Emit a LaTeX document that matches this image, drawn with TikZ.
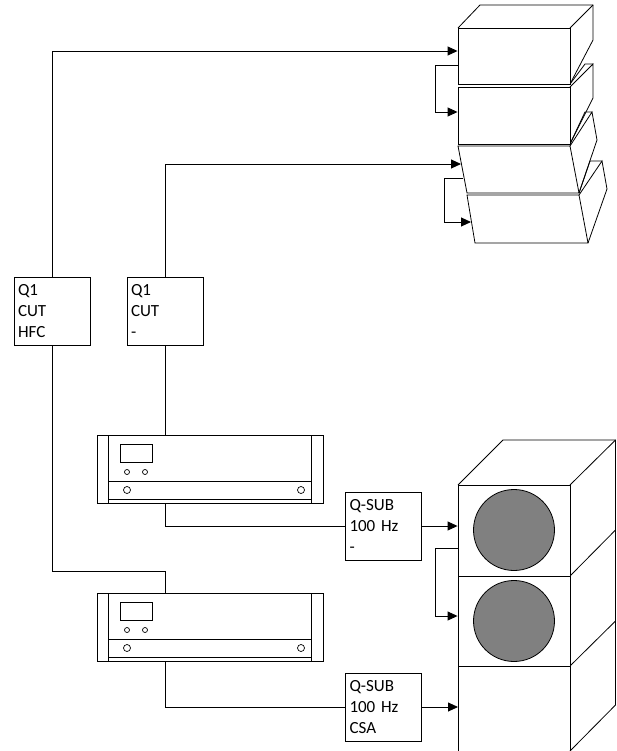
\documentclass[tikz,border=0pt]{standalone}
\usepackage{fontspec}
\setmainfont[WordSpace=0.6]{Carlito}
\usetikzlibrary{arrows.meta,positioning,calc}

\begin{document}
\begin{tikzpicture}[x=1pt, y=-1pt,
			box/.style={rectangle, draw=black, line width=0.9pt, fill=white, inner sep=0pt,
				minimum width=76pt, minimum height=68pt, text width=68pt, align=left,
				font=\fontsize{17}{21}\selectfont},
			cab/.style={rectangle, draw=black, line width=0.9pt, fill=white, inner sep=0pt,
				minimum width=112pt},
			rack/.style={rectangle, draw=black, line width=0.9pt, fill=white, inner sep=0pt,
				minimum width=226pt, minimum height=68pt},
			cone/.style={circle, draw=black, line width=0.8pt, fill=black!50, inner sep=0pt,
				minimum size=81pt},
			knob/.style={circle, draw=black, line width=0.7pt, inner sep=0pt, minimum size=#1},
			wire/.style={draw=black, line width=0.9pt},
			line/.style={draw=black, line width=0.9pt, -{Triangle[length=10pt,width=9pt]}},
			shell/.style={draw=black, line width=0.8pt}]
			\useasboundingbox (0,0) rectangle (616,751);
			
			% Top cabinets
			\draw[shell] (458,28) -- (480,5) -- (593,5) -- (593,40) -- (570,84);
			\draw[shell] (570,28) -- (593,5);
			\draw[shell] (570,87) -- (593,64) -- (593,98) -- (570,144);
			\draw[shell] (570,84) -- (585,64) -- (593,64);
			\draw[shell] (570,146) -- (592,112) -- (597,140) -- (579,193);
			\draw[shell] (570,144) -- (585,112) -- (592,112);
			\draw[shell] (579,195) -- (602,161) -- (607,189) -- (588,243);
			\draw[shell] (579,193) -- (590,161) -- (602,161);
			\node[cab, minimum height=56pt] (top1) at (514,56) {};
			\node[cab, minimum height=57pt] (top2) at (514,115.5) {};
			\draw[shell] (458,146) coordinate (t3a) -- (570,146) -- (579,193) -- (467,193) coordinate (t3d) -- cycle;
			\draw[shell] (467,195) coordinate (t4a) -- (579,195) -- (588,243) -- (475,243) coordinate (t4d) -- cycle;
			\coordinate (t3in) at (461,164);
			\coordinate (t3out) at (463,178);
			\coordinate (t4in) at (471,222);
			
			% Bass stack
			\draw[shell] (458,485) -- (503,440) -- (615.5,440) -- (615.5,705) -- (570,751);
			\draw[shell] (570,485) -- (615.5,440);
			\draw[shell] (570,576) -- (615.5,530);
			\draw[shell] (570,666) -- (615.5,621);
			\node[cab, minimum height=91pt] (sub1) at (514,530.5) {};
			\node[cab, minimum height=90pt] (sub2) at (514,621) {};
			\draw[shell] (458,666) coordinate (s3a) -- (458,752) (570,666) -- (570,752);
			\node[cone] (cone1) at (514,530) {};
			\node[cone] (cone2) at (514,621) {};
			\coordinate (s3in) at (458,706);
			
			% Crossover boxes
			\node[box] (q1a) at (52,311) {Q1\\CUT\\HFC};
			\node[box] (q1b) at (165,311) {Q1\\CUT\\-};
			\node[box] (qsubA) at (383.5,526) {Q-SUB\\100 Hz\\-};
			\node[box] (qsubB) at (383.5,707) {Q-SUB\\100 Hz\\CSA};
			
			% Amplifiers
			\foreach \n/\y in {ampA/435,ampB/593} {
				\node[rack] (\n) at (210,\y+34) {};
				\begin{scope}[shift={(0,\y)}]
					\draw[shell] (108,0) -- (108,68) (311,0) -- (311,68);
					\draw[shell] (108,46) -- (311,46) (108,64) -- (311,64);
					\node[draw=black, line width=0.8pt, minimum width=32pt, minimum height=18pt, inner sep=0pt] (\n disp) at (136,18) {};
					\node[knob=5pt] (\n k1) at (127,37) {};
					\node[knob=5pt] (\n k2) at (145,37) {};
					\node[knob=7pt] (\n k3) at (127,55) {};
					\node[knob=7pt] (\n k4) at (301,55) {};
				\end{scope}
			}
			
			% Signal from the crossovers
			\path[line] (q1a.north) |- (top1.west |- 0,51);
			\path[line] (q1b.north) |- (t3in);
			\path[wire] (q1b.south) -- (q1b.south |- ampA.north);
			\path[wire] (q1a.south) |- (q1b.south |- 0,571) -- (q1b.south |- ampB.north);
			\path[wire] (q1b.south |- ampA.south) |- (qsubA.west);
			\path[wire] (q1b.south |- ampB.south) |- (qsubB.west);
			\path[line] (qsubA.east) -- (qsubA.east -| sub1.west);
			\path[line] (qsubB.east) -- (qsubB.east -| s3in);
			
			% Links between cabinets
			\path[line] (top1.west |- 0,65) -- (435,65) |- (top2.west |- 0,112);
			\path[line] (t3out) -- (444,178) |- (t4in);
			\path[line] (sub1.west |- 0,548) -- (435,548) |- (sub2.west |- 0,616);
		\end{tikzpicture}
\end{document}
